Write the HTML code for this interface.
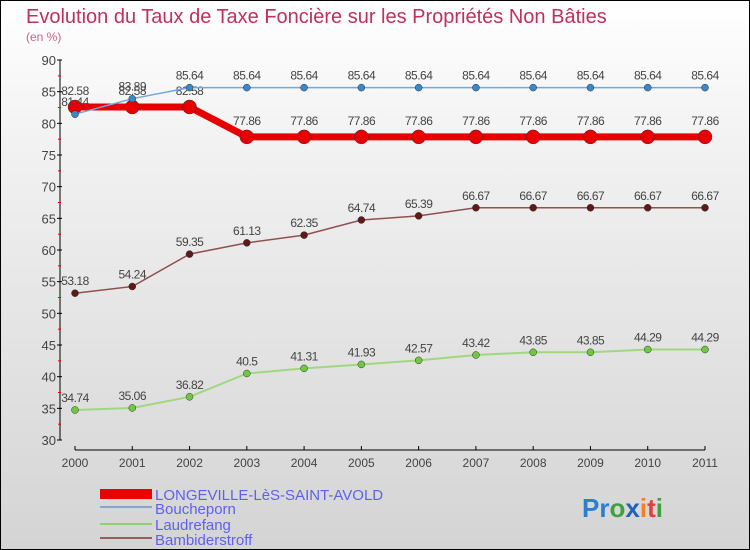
<!DOCTYPE html>
<html><head><meta charset="utf-8"><style>
body{margin:0}
#c{width:750px;height:550px;position:relative;box-sizing:border-box;border:1px solid #000;background:linear-gradient(#fff 0%,#f0f0f0 30%,#d4d4d4 100%);font-family:"Liberation Sans",sans-serif;overflow:hidden}
</style></head><body>
<div id="c">
<svg id="s" width="750" height="550" style="position:absolute;left:-1px;top:-1px">
<text x="26" y="23" font-size="20" fill="#c0305a">Evolution du Taux de Taxe Foncière sur les Propriétés Non Bâties</text>
<text x="26" y="41" font-size="12" fill="#d06080">(en %)</text>
<g id="ax"></g><g id="series"></g>
<g>
<rect x="100" y="489" width="52" height="10" fill="#e00"/>
<text x="155" y="500" font-size="15" fill="#6060f0">LONGEVILLE-LèS-SAINT-AVOLD</text>
<line x1="100" y1="507" x2="152" y2="507" stroke="#80a8d0" stroke-width="2"/>
<text x="155" y="514" font-size="15" fill="#6060f0">Boucheporn</text>
<line x1="100" y1="524" x2="152" y2="524" stroke="#90d070" stroke-width="2"/>
<text x="155" y="530" font-size="15" fill="#6060f0">Laudrefang</text>
<line x1="100" y1="538" x2="152" y2="538" stroke="#906060" stroke-width="2"/>
<text x="155" y="545" font-size="15" fill="#6060f0">Bambiderstroff</text>
</g>
<text x="582" y="517" font-size="26" font-weight="bold"><tspan fill="#2a80d0">Pr</tspan><tspan fill="#40a040">o</tspan><tspan fill="#2060c0">x</tspan><tspan fill="#f08020">i</tspan><tspan fill="#e04040">t</tspan><tspan fill="#40a040">i</tspan></text>
</svg>
</div>
<script>
const years=[2000,2001,2002,2003,2004,2005,2006,2007,2008,2009,2010,2011];
const yTicks=[30,35,40,45,50,55,60,65,70,75,80,85,90];
const longeville=[82.58,82.58,82.58,77.86,77.86,77.86,77.86,77.86,77.86,77.86,77.86,77.86];
const boucheporn=[81.44,83.89,85.64,85.64,85.64,85.64,85.64,85.64,85.64,85.64,85.64,85.64];
const laudrefang=[34.74,35.06,36.82,40.5,41.31,41.93,42.57,43.42,43.85,43.85,44.29,44.29];
const bambi=[53.18,54.24,59.35,61.13,62.35,64.74,65.39,66.67,66.67,66.67,66.67,66.67];
const NS="http://www.w3.org/2000/svg";
const xs=i=>75+i*(630/11), ys=v=>60+(90-v)*(380/60);
function mk(t,a,p){const e=document.createElementNS(NS,t);for(const k in a)e.setAttribute(k,a[k]);p.appendChild(e);return e;}
const ax=document.getElementById('ax');
let yl=mk('line',{x1:60,y1:60,x2:60,y2:440,stroke:'#000'},ax);


yTicks.forEach(v=>{mk('line',{x1:57,y1:ys(v),x2:62,y2:ys(v),stroke:'#000'},ax);
 if(v<90)mk('line',{x1:58,y1:ys(v+2.5),x2:61,y2:ys(v+2.5),stroke:'#e00'},ax);
 const t=mk('text',{x:56,y:ys(v)+5,'font-size':13,fill:'#444','text-anchor':'end'},ax);t.textContent=v;
 
 });
let xl=mk('line',{x1:75,y1:450,x2:705,y2:450,stroke:'#000'},ax);


years.forEach((y,i)=>{mk('line',{x1:xs(i),y1:446,x2:xs(i),y2:450,stroke:'#000'},ax);
 const t=mk('text',{x:xs(i),y:467,'font-size':12,fill:'#444','text-anchor':'middle'},ax);t.textContent=y;
 
 });
const sg=document.getElementById('series');
function draw(d,name,col,dot,w,r,dy){
 const g=mk('g',{},sg);
 
 
 mk('polyline',{points:d.map((v,i)=>xs(i)+','+ys(v)).join(' '),fill:'none',stroke:col,'stroke-width':w},g);
 d.forEach((v,i)=>{const c=mk('circle',{cx:xs(i),cy:ys(v),r:r,fill:dot,stroke:'#333','stroke-width':0.5},g);
  
  
  const t=mk('text',{x:xs(i),y:ys(v)+dy,'font-size':12,fill:'#444','text-anchor':'middle','letter-spacing':'-0.5'},g);t.textContent=v;
  
  });
}
draw(laudrefang,'laudrefang','#a0d880','#70c840',2,3.5,-8);
draw(bambi,'bambiderstroff','#905050','#601818',1.5,3.5,-8);
draw(longeville,'longeville','#e80000','#e80000',7,7,-12);
draw(boucheporn,'boucheporn','#70a8e0','#3a88c8',1.5,3.5,-8);
</script>
</body></html>
